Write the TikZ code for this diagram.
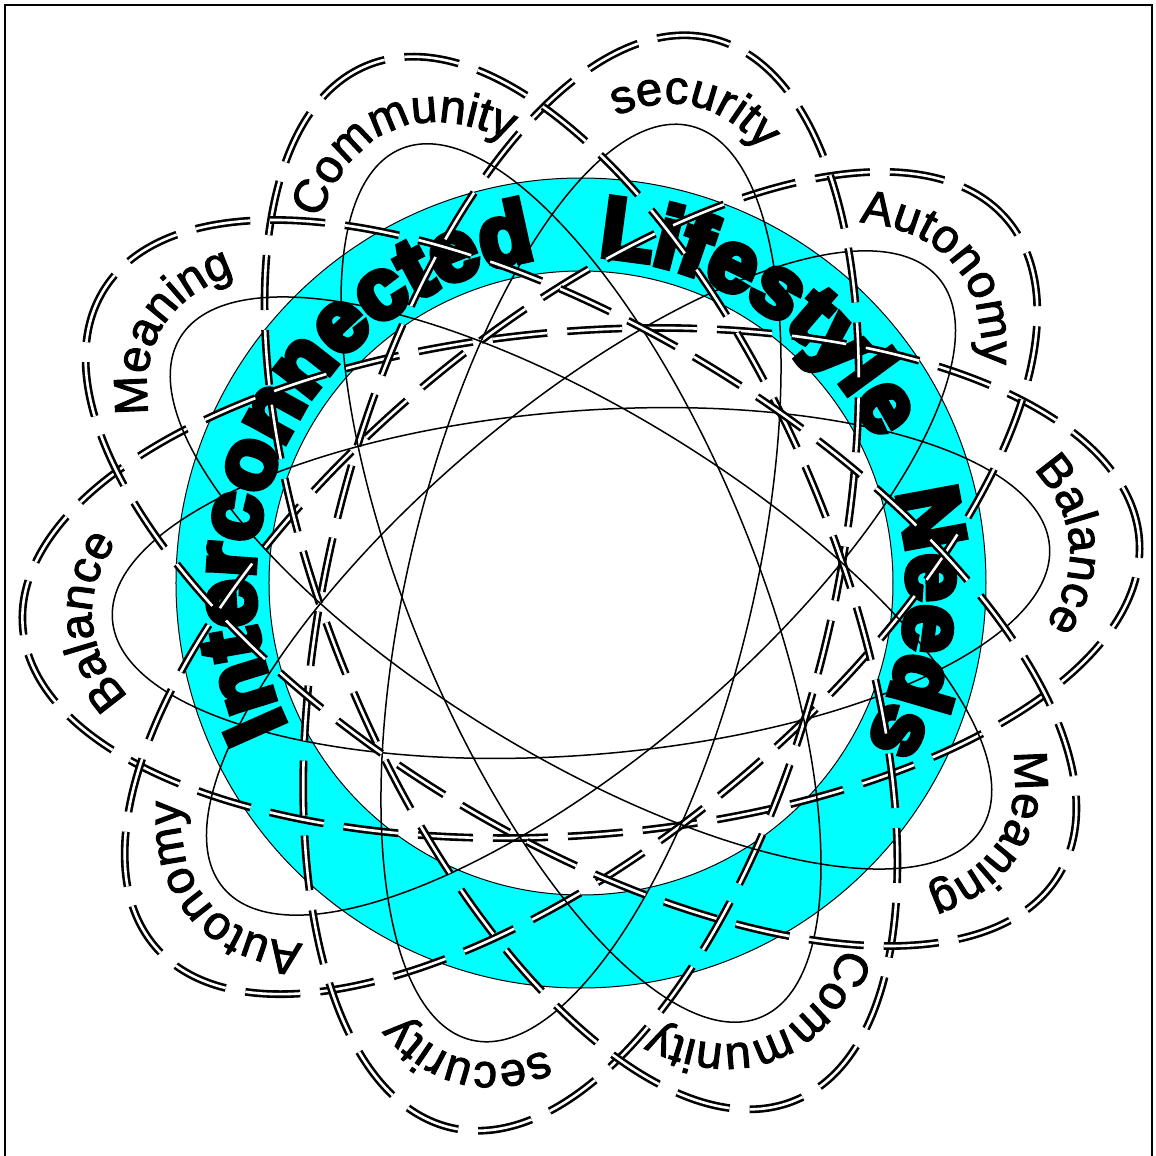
\documentclass[tikz,border=0pt]{standalone}
\usepackage{fontspec}
\usetikzlibrary{decorations.text}
\definecolor{aqua}{RGB}{0,255,255}
\newfontfamily\petalfamily{Liberation Sans}[FakeBold=2]
\newfontfamily\ringfamily{Liberation Sans Bold}[FakeBold=7]
\newcommand\petalfont{\petalfamily\fontsize{13.4}{15}\selectfont}
\newcommand\ringfont{\ringfamily\fontsize{24.5}{26}\selectfont}
\begin{document}
\begin{tikzpicture}[x=.1mm, y=.1mm,
		frame/.style={line width=.25mm},
		band/.style={line width=.1mm},
		petal/.style={line width=.15mm},
		halo/.style={line width=.26mm, double, double distance=.26mm, dash pattern=on 5.5mm off 2mm}]
	\useasboundingbox (-581,-573) rectangle (574,583);
	\draw[frame] (-576,-590) -- (-576,578) -- (571,578) -- (571,-590);
	\fill[aqua, even odd rule] (0,0) circle[radius=405] (0,0) circle[radius=312];
	\draw[band] (0,0) circle[radius=405] (0,0) circle[radius=312];
	\foreach \s/\e/\w in {206/102/Interconnected, 87/26/Lifestyle, 16/-27/Needs}
		\path[decorate, decoration={text along path, text align={fit to path}, text/.expanded={|\noexpand\ringfont|\w}}]
			(\s:327) arc[start angle=\s, end angle=\e, radius=327];
	\foreach \a/\w in {4.5/Balance, 40.5/Autonomy, 76.5/security, 112.5/Community, 148.5/Meaning} {
		\draw[petal, rotate=\a] (0,0) ellipse[x radius=470, y radius=172];
		\draw[halo, rotate=\a] (0,0) ellipse[x radius=560, y radius=252];
		\foreach \b in {\a, \a+180}
			\path[rotate=\b, decorate, decoration={text along path, text align=center, text/.expanded={|\noexpand\petalfont|\w}}]
				(70:490 and 225) arc[start angle=70, end angle=-70, x radius=490, y radius=225];
	}
\end{tikzpicture}
\end{document}
